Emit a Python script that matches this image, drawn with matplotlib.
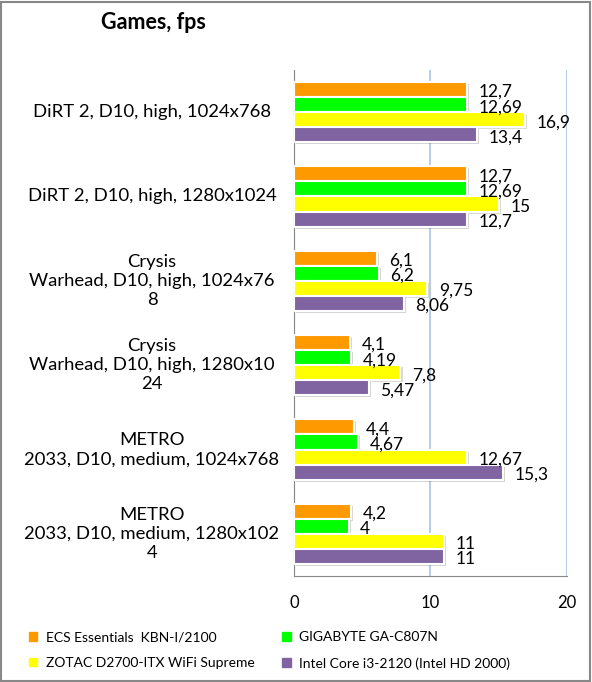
import matplotlib.pyplot as plt
import matplotlib.patheffects as pe
from matplotlib.patches import Rectangle
import numpy as np

plt.rcParams['font.family'] = ['Lato', 'DejaVu Sans']

categories = [
    "DiRT 2, D10, high, 1024x768",
    "DiRT 2, D10, high, 1280x1024",
    "Crysis\nWarhead, D10, high, 1024x76\n8",
    "Crysis\nWarhead, D10, high, 1280x10\n24",
    "METRO\n2033, D10, medium, 1024x768",
    "METRO\n2033, D10, medium, 1280x102\n4",
]
series_names = [
    "ECS Essentials  KBN-I/2100",
    "GIGABYTE GA-C807N",
    "ZOTAC D2700-ITX WiFi Supreme",
    "Intel Core i3-2120 (Intel HD 2000)",
]
ecs = [12.7, 12.7, 6.1, 4.1, 4.4, 4.2]
gigabyte = [12.69, 12.69, 6.2, 4.19, 4.67, 4.0]
zotac = [16.9, 15, 9.75, 7.8, 12.67, 11]
intel = [13.4, 12.7, 8.06, 5.47, 15.3, 11]
labels = [
    ["12,7", "12,7", "6,1", "4,1", "4,4", "4,2"],
    ["12,69", "12,69", "6,2", "4,19", "4,67", "4"],
    ["16,9", "15", "9,75", "7,8", "12,67", "11"],
    ["13,4", "12,7", "8,06", "5,47", "15,3", "11"],
]
colors = ["#FF9900", "#00FF00", "#FFFF00", "#8064A2"]

fig = plt.figure(figsize=(5.92, 6.82), dpi=100)
fig.patches.append(Rectangle((0.002, 0.002), 0.995, 0.995, transform=fig.transFigure,
                             fill=False, edgecolor="#888888", linewidth=1.5))

ax = fig.add_axes([0.4966, 0.1554, 0.4611, 0.742])
y = np.arange(len(categories))
h = 0.179
data = [ecs, gigabyte, zotac, intel]
for k, vals in enumerate(data):
    pos = y - 1.5 * h + k * h
    bars = ax.barh(pos, vals, height=h, color=colors[k], edgecolor="white",
                   linewidth=1.5, zorder=3)
    for b in bars:
        b.set_path_effects([pe.SimplePatchShadow(offset=(1.5, -1.5), alpha=0.2),
                            pe.Normal()])
    for p, v, lab in zip(pos, vals, labels[k]):
        ax.text(v + 0.85, p + 0.03, lab, va="center", ha="left", fontsize=12.5, zorder=4)

ax.set_xlim(0, 20)
ax.set_ylim(len(categories) - 0.5, -0.5)
ax.set_xticks([0, 10, 20])
ax.tick_params(axis="x", length=0, pad=14, labelsize=12)
ax.set_yticks([])
ax.grid(axis="x", color="#B9CDE5", linewidth=1.5, zorder=0)
for s in ["top", "right"]:
    ax.spines[s].set_visible(False)
for s in ["left", "bottom"]:
    ax.spines[s].set_color("#888888")

for i, c in enumerate(categories):
    ax.text(-0.52, i, c, transform=ax.get_yaxis_transform(), ha="center",
            va="center", multialignment="center", fontsize=13.3, linespacing=1.25)

fig.text(0.259, 0.967, "Games, fps", ha="center", va="center", fontsize=15.5,
         fontweight="bold")

# legend is filled row by row in the reference
order = [0, 2, 1, 3]
handles = [Rectangle((0, 0), 1, 1, color=colors[i]) for i in order]
names = [series_names[i] for i in order]
fig.legend(handles, names, loc="lower left", bbox_to_anchor=(0.028, 0.0),
           ncol=2, frameon=False, fontsize=10, handlelength=0.6, handleheight=0.6,
           handletextpad=0.6, columnspacing=2.0, labelspacing=1.0)

fig.savefig("out.png", dpi=100)
